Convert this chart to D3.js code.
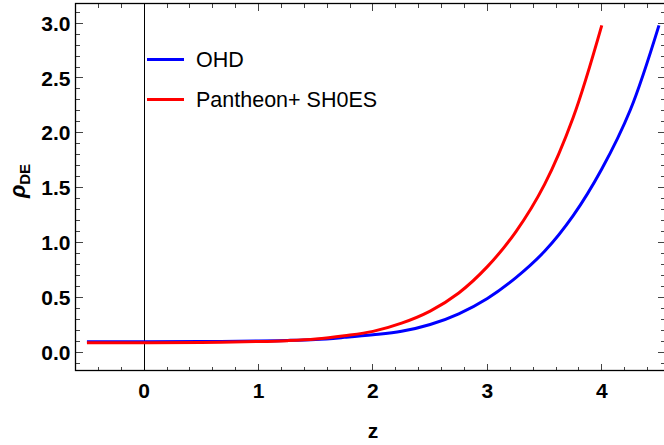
<!DOCTYPE html>
<html>
<head>
<meta charset="utf-8">
<script src="https://cdn.jsdelivr.net/npm/d3@7"></script>
<style>
  body { margin: 0; background: #fff; }
  svg { display: block; }
  text { font-family: "Liberation Sans", Arial, sans-serif; }
</style>
</head>
<body>
<svg width="664" height="445"></svg>
<script>
// values
var zOHD = [-0.5, 0, 0.5, 1.0, 1.25, 1.5, 1.75, 2.0, 2.25, 2.5, 2.75, 3.0, 3.25, 3.5, 3.75, 4.0, 4.25, 4.5];
var rhoOHD = [0.095, 0.095, 0.097, 0.102, 0.107, 0.116, 0.135, 0.158, 0.19, 0.252, 0.35, 0.49, 0.68, 0.92, 1.245, 1.67, 2.21, 2.98];

var zPan = [-0.5, 0, 0.5, 1.0, 1.25, 1.5, 1.75, 2.0, 2.25, 2.5, 2.75, 3.0, 3.25, 3.5, 3.75, 4.0];
var rhoPan = [0.085, 0.086, 0.089, 0.097, 0.105, 0.12, 0.15, 0.19, 0.265, 0.375, 0.54, 0.78, 1.1, 1.53, 2.14, 2.98];

var seriesNames = ["OHD", "Pantheon+ SH0ES"];
var seriesColors = ["#0000ff", "#ff0000"];

var xTicks = [0, 1, 2, 3, 4];
var yTicks = [0, 0.5, 1.0, 1.5, 2.0, 2.5, 3.0];

var svg = d3.select("svg");

var x = d3.scaleLinear().domain([-0.6, 4.55]).range([75.5, 664.7]);
var y = d3.scaleLinear().domain([-0.167, 3.179]).range([370.5, 3.5]);

var pLeft = x.range()[0], pRight = x.range()[1], pTop = y.range()[1], pBottom = y.range()[0];

var xMinor = d3.range(-6, 46, 2).map(function (d) { return d / 10; })
  .filter(function (d) { return Math.abs(d - Math.round(d)) > 1e-6; });
var yMinor = d3.range(-1, 32, 1).map(function (d) { return d / 10; })
  .filter(function (d) { return Math.abs(d * 2 - Math.round(d * 2)) > 1e-6; });

// ticks on all four sides
var tickG = svg.append("g").attr("stroke", "#444").attr("stroke-width", 1)
  .attr("shape-rendering", "crispEdges");
function hTicks(vals, len) {
  vals.forEach(function (v) {
    tickG.append("line").attr("x1", x(v)).attr("x2", x(v)).attr("y1", pBottom).attr("y2", pBottom - len);
    tickG.append("line").attr("x1", x(v)).attr("x2", x(v)).attr("y1", pTop).attr("y2", pTop + len);
  });
}
function vTicks(vals, len) {
  vals.forEach(function (v) {
    tickG.append("line").attr("y1", y(v)).attr("y2", y(v)).attr("x1", pLeft).attr("x2", pLeft + len);
    tickG.append("line").attr("y1", y(v)).attr("y2", y(v)).attr("x1", pRight).attr("x2", pRight - len);
  });
}
hTicks(xTicks, 7);
hTicks(xMinor, 4);
vTicks(yTicks, 7);
vTicks(yMinor, 4);

// z = 0 line
svg.append("line")
  .attr("x1", Math.round(x(0)) + 0.5).attr("x2", Math.round(x(0)) + 0.5).attr("y1", pTop).attr("y2", pBottom)
  .attr("stroke", "#000").attr("stroke-width", 1);

// frame
svg.append("rect")
  .attr("x", pLeft).attr("y", pTop)
  .attr("width", pRight - pLeft).attr("height", pBottom - pTop)
  .attr("fill", "none").attr("stroke", "#000").attr("stroke-width", 1.3);

// tick labels
svg.append("g").selectAll("text").data(xTicks).enter().append("text")
  .attr("x", function (d) { return x(d); })
  .attr("y", 398)
  .attr("text-anchor", "middle")
  .attr("font-size", 21).attr("font-weight", "bold")
  .text(function (d) { return d; });

svg.append("g").selectAll("text").data(yTicks).enter().append("text")
  .attr("x", pLeft - 5)
  .attr("y", function (d) { return y(d); })
  .attr("dy", "0.36em")
  .attr("text-anchor", "end")
  .attr("font-size", 21).attr("font-weight", "bold")
  .text(function (d) { return d.toFixed(1); });

// axis titles
svg.append("text")
  .attr("x", x(2)).attr("y", 438)
  .attr("text-anchor", "middle")
  .attr("font-size", 21).attr("font-weight", "bold")
  .text("z");

var yl = svg.append("text")
  .attr("transform", "translate(25,181) rotate(-90)")
  .attr("text-anchor", "middle")
  .attr("font-weight", "bold");
yl.append("tspan").attr("font-size", 22).attr("font-style", "italic").text("ρ");
yl.append("tspan").attr("font-size", 15).attr("dy", 5).text("DE");

// curves
var line = d3.line()
  .x(function (d) { return x(d[0]); })
  .y(function (d) { return y(d[1]); })
  .curve(d3.curveCatmullRom.alpha(0.5));

var data = [d3.zip(zOHD, rhoOHD), d3.zip(zPan, rhoPan)];
svg.append("g").selectAll("path").data(data).enter().append("path")
  .attr("d", line)
  .attr("fill", "none")
  .attr("stroke", function (d, i) { return seriesColors[i]; })
  .attr("stroke-width", 3);

// legend
var leg = svg.append("g").selectAll("g").data(seriesNames).enter().append("g")
  .attr("transform", function (d, i) { return "translate(147," + (59.5 + i * 40) + ")"; });
leg.append("line")
  .attr("x1", 0).attr("x2", 37)
  .attr("stroke", function (d, i) { return seriesColors[i]; })
  .attr("stroke-width", 3);
leg.append("text")
  .attr("x", 49).attr("dy", "0.36em")
  .attr("font-size", 21.5)
  .text(function (d) { return d; });
</script>
</body>
</html>
